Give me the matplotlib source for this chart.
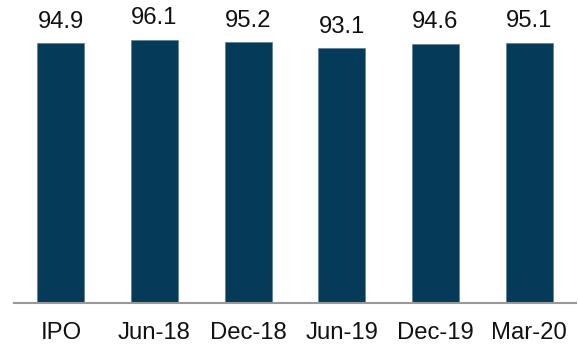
import matplotlib
matplotlib.use('Agg')
import matplotlib.pyplot as plt

# chart data
periods = ['IPO', 'Jun-18', 'Dec-18', 'Jun-19', 'Dec-19', 'Mar-20']
values = [94.9, 96.1, 95.2, 93.1, 94.6, 95.1]

bar_color = '#053a59'
plt.rcParams['font.family'] = ['Liberation Sans', 'DejaVu Sans']

fig = plt.figure(figsize=(5.78, 3.47), dpi=100)
ax = fig.add_axes([14 / 578, 44.3 / 347, 562 / 578, 302.7 / 347])

x = list(range(len(periods)))
ax.bar(x, values, width=0.5, color=bar_color, edgecolor='#4f7893', linewidth=0.4)

for xi, v in zip(x, values):
    ax.annotate(f'{v:.1f}', (xi, v), xytext=(0, 11.2), textcoords='offset points',
                ha='center', va='baseline', fontsize=17.2, color='#111111')

ax.set_xlim(-0.5, 5.5)
ax.set_ylim(0, 110.7)
ax.set_xticks(x)
ax.set_xticklabels(periods, fontsize=17.2, color='#111111')
ax.tick_params(axis='x', length=0, pad=13.8)
ax.set_yticks([])

for side in ['top', 'right', 'left']:
    ax.spines[side].set_visible(False)
ax.spines['bottom'].set_color('#999999')
ax.spines['bottom'].set_linewidth(1.5)

fig.savefig('out.png', dpi=100)
